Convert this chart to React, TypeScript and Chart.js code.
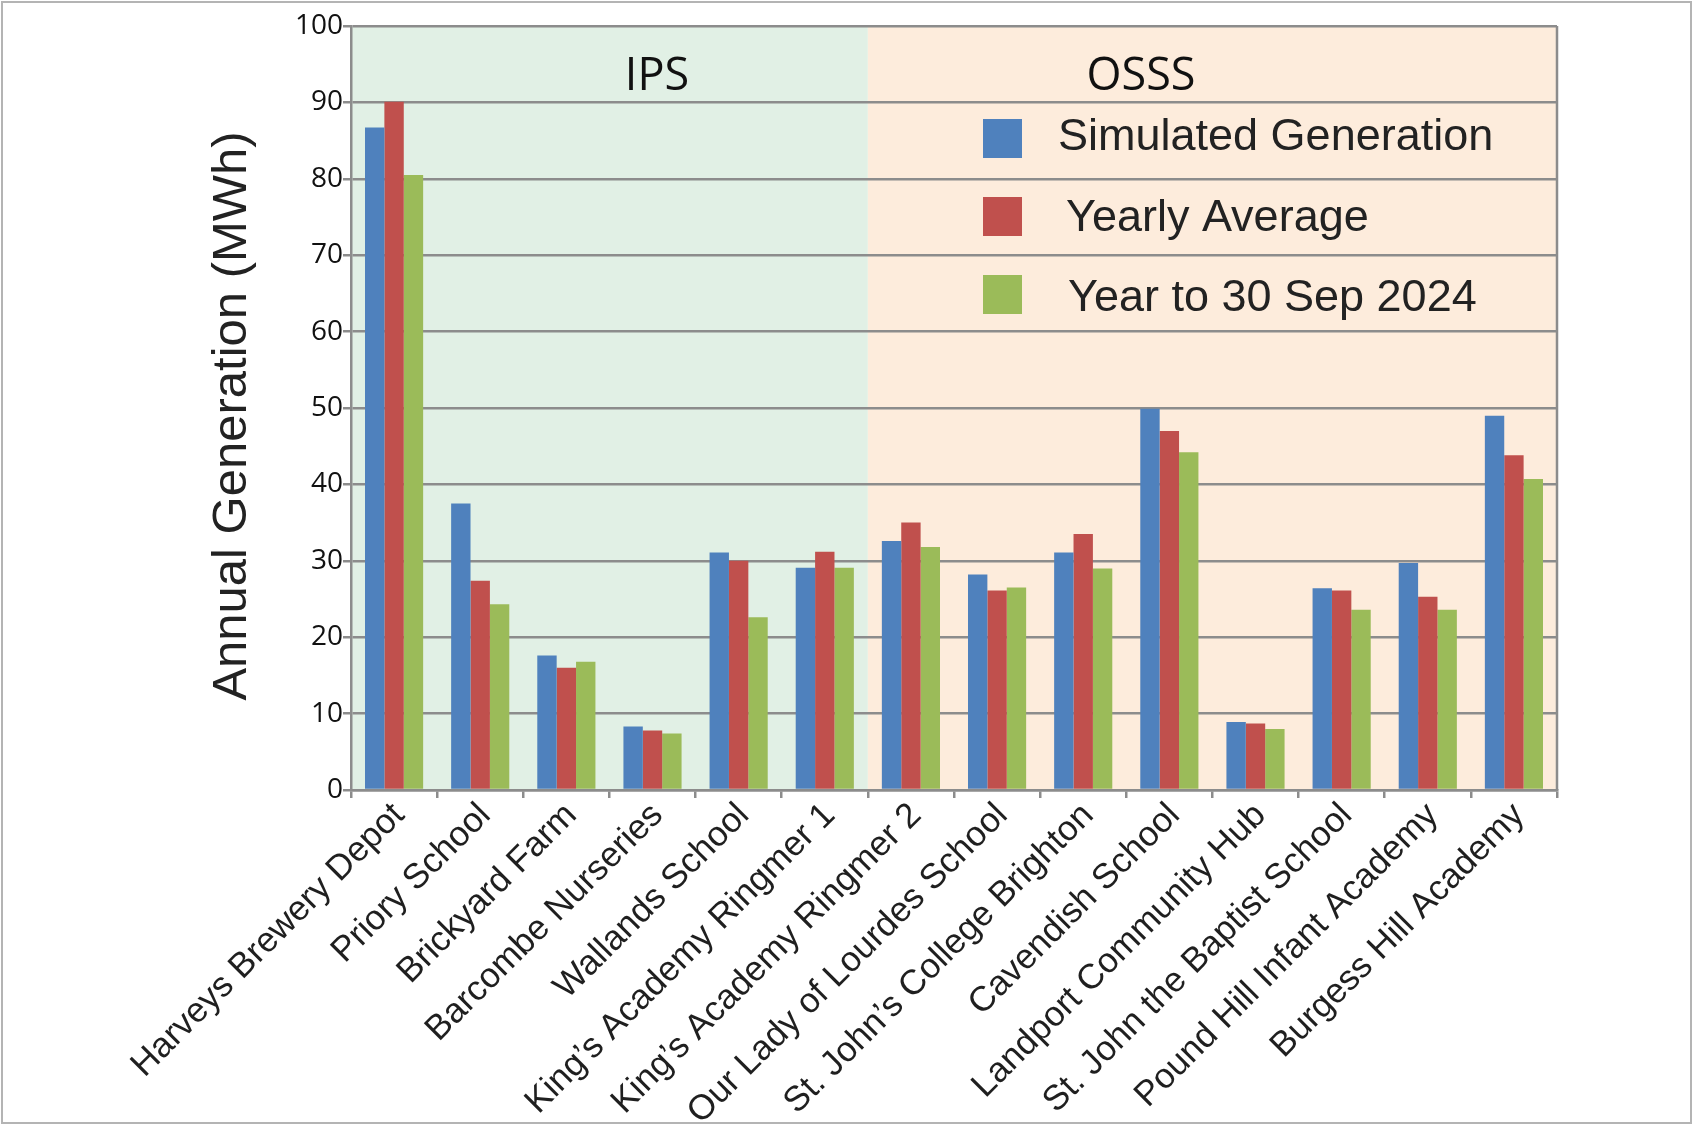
import React, { useEffect, useRef } from "react";
import { Chart, registerables } from "chart.js";

Chart.register(...registerables);

const categories = [
  "Harveys Brewery Depot",
  "Priory School",
  "Brickyard Farm",
  "Barcombe Nurseries",
  "Wallands School",
  "King\u2019s Academy Ringmer 1",
  "King\u2019s Academy Ringmer 2",
  "Our Lady of Lourdes School",
  "St. John\u2019s College Brighton",
  "Cavendish School",
  "Landport Community Hub",
  "St. John the Baptist School",
  "Pound Hill Infant Academy",
  "Burgess Hill Academy",
];

const seriesLabels = ["Simulated Generation", "Yearly Average", "Year to 30 Sep 2024"];
const simulatedGeneration = [86.7, 37.5, 17.6, 8.3, 31.1, 29.1, 32.6, 28.2, 31.1, 49.9, 8.9, 26.4, 29.7, 49.0];
const yearlyAverage = [90.1, 27.4, 16.0, 7.8, 30.0, 31.2, 35.0, 26.1, 33.5, 47.0, 8.7, 26.1, 25.3, 43.8];
const yearToSep2024 = [80.5, 24.3, 16.8, 7.4, 22.6, 29.1, 31.8, 26.5, 29.0, 44.2, 8.0, 23.6, 23.6, 40.7];

const yAxisTitle = "Annual Generation (MWh)";
const regionLabels = ["IPS", "OSSS"];
const regionFirst = [0, 6];
const regionLast = [5, 13];

const yMin = 0;
const yMax = 100;
const yStep = 10;

const seriesColors = ["#4f81bd", "#c0504d", "#9bbb59"];
const regionColors = ["#e1f0e5", "#fdecdc"];
const gridColor = "#8c8c8c";
const arialStack = '"Liberation Sans", Arial, sans-serif';

const decorPlugin = {
  id: "decor",
  beforeDraw(chart: any) {
    const { ctx, chartArea: a, scales } = chart;
    const x = scales.x;
    ctx.save();
    ctx.fillStyle = "#ffffff";
    ctx.fillRect(0, 0, chart.width, chart.height);
    const n = categories.length;
    regionLabels.forEach((_, i) => {
      const f = regionFirst[i];
      const l = regionLast[i];
      const left = f === 0 ? a.left : (x.getPixelForValue(f - 1) + x.getPixelForValue(f)) / 2;
      const right = l === n - 1 ? a.right : (x.getPixelForValue(l) + x.getPixelForValue(l + 1)) / 2;
      ctx.fillStyle = regionColors[i];
      ctx.fillRect(left, a.top, right - left, a.bottom - a.top);
    });
    ctx.restore();
  },
  afterDraw(chart: any) {
    const { ctx, chartArea: a } = chart;
    ctx.save();
    // right border of plot
    ctx.strokeStyle = gridColor;
    ctx.lineWidth = 2.5;
    ctx.beginPath();
    ctx.moveTo(a.right, a.top);
    ctx.lineTo(a.right, a.bottom);
    ctx.stroke();

    // y axis title
    ctx.save();
    ctx.translate(232, (a.top + a.bottom) / 2 + 8);
    ctx.rotate(-Math.PI / 2);
    ctx.fillStyle = "#222222";
    ctx.font = `49px ${arialStack}`;
    ctx.textAlign = "center";
    ctx.textBaseline = "middle";
    ctx.fillText(yAxisTitle, 0, 0);
    ctx.restore();

    // region labels
    ctx.fillStyle = "#111111";
    ctx.font = '45px "Open Sans", sans-serif';
    ctx.textAlign = "center";
    ctx.textBaseline = "alphabetic";
    const regionCenters = [306, 790];
    regionLabels.forEach((lab, i) => {
      ctx.fillText(lab, a.left + regionCenters[i], a.top + 64);
    });

    // legend
    const ds = chart.data.datasets;
    ctx.font = `45px ${arialStack}`;
    ctx.textAlign = "left";
    const textShift = [-3, 5, 7];
    ds.forEach((d: any, i: number) => {
      const top = a.top + 93 + 78 * i;
      ctx.fillStyle = d.backgroundColor;
      ctx.fillRect(a.left + 632, top, 39, 39);
      ctx.fillStyle = "#222222";
      ctx.fillText(d.label, a.left + 710 + textShift[i], a.top + 124 + 80.5 * i);
    });

    // outer frame
    ctx.strokeStyle = "#b4b4b4";
    ctx.lineWidth = 2;
    ctx.strokeRect(2, 2, chart.width - 4, chart.height - 3);
    ctx.restore();
  },
};

export default function App() {
  const canvasRef = useRef<HTMLCanvasElement | null>(null);

  useEffect(() => {
    if (!canvasRef.current) return;
    const seriesData = [simulatedGeneration, yearlyAverage, yearToSep2024];
    const chart = new Chart(canvasRef.current, {
      type: "bar",
      data: {
        labels: categories,
        datasets: seriesLabels.map((label, i) => ({
          label,
          data: seriesData[i],
          backgroundColor: seriesColors[i],
          borderWidth: 0,
          categoryPercentage: 0.675,
          barPercentage: 1.0,
        })),
      },
      options: {
        responsive: false,
        animation: false,
        layout: { padding: { left: 0, right: 136, top: 26, bottom: 0 } },
        plugins: {
          legend: { display: false },
          tooltip: { enabled: false },
        },
        scales: {
          x: {
            grid: {
              offset: true,
              drawOnChartArea: false,
              drawTicks: true,
              tickLength: 8,
              color: gridColor,
              lineWidth: 2.5,
            },
            border: { color: gridColor, width: 2.5 },
            ticks: {
              autoSkip: false,
              minRotation: 45,
              maxRotation: 45,
              padding: -3,
              labelOffset: 5,
              color: "#1f1f1f",
              font: { family: arialStack, size: 35 },
            },
            afterFit: (s: any) => {
              s.height = 334;
            },
          },
          y: {
            min: yMin,
            max: yMax,
            ticks: {
              stepSize: yStep,
              padding: 0,
              color: "#111111",
              font: { family: '"Open Sans", sans-serif', size: 28 },
            },
            grid: {
              color: gridColor,
              lineWidth: 2.5,
              tickLength: 8,
            },
            border: { color: gridColor, width: 2.5 },
            title: { display: false },
            afterFit: (s: any) => {
              s.width = 351;
            },
          },
        },
      },
      plugins: [decorPlugin],
    });
    return () => chart.destroy();
  }, []);

  return (
    <div style={{ position: "absolute", left: 0, top: 0, width: 1693, height: 1124 }}>
      <canvas ref={canvasRef} width={1693} height={1124} style={{ display: "block" }} />
    </div>
  );
}
